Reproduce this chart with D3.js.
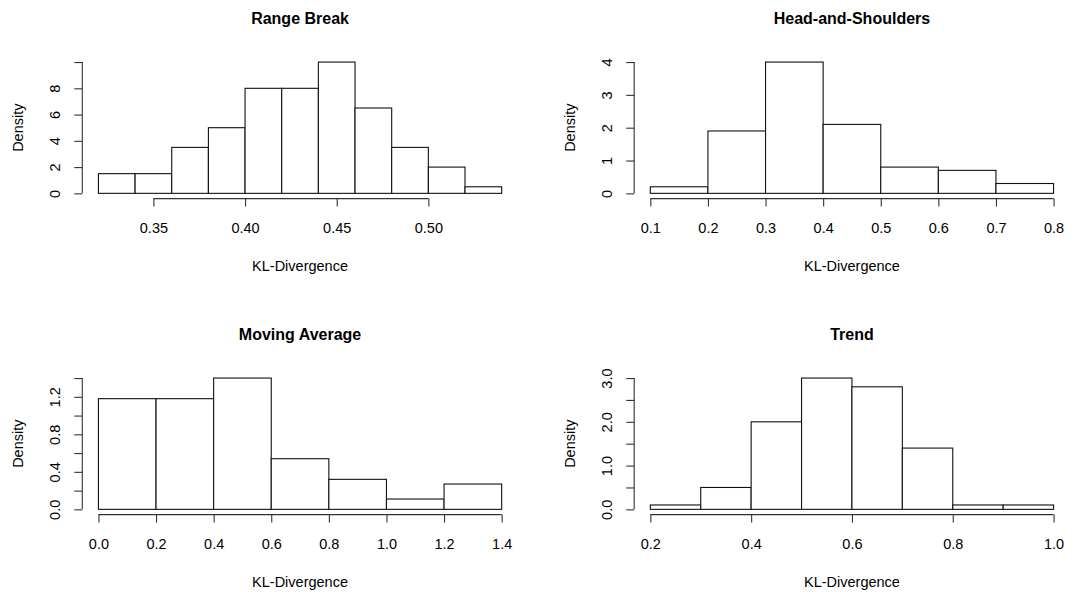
<!DOCTYPE html>
<html>
<head>
<meta charset="utf-8">
<script src="https://cdn.jsdelivr.net/npm/d3@7"></script>
<style>
  html, body { margin: 0; padding: 0; background: #fff; }
  svg { display: block; }
  text { font-family: "Liberation Sans", Arial, Helvetica, sans-serif; fill: #000; }
</style>
</head>
<body>
<svg id="chart" width="1073" height="592"></svg>
<script>
// Histogram data: bin edges and densities for each pattern type
const rangeBreakBreaks = [0.32, 0.34, 0.36, 0.38, 0.40, 0.42, 0.44, 0.46, 0.48, 0.50, 0.52, 0.54];
const rangeBreakDensity = [1.5, 1.5, 3.5, 5, 8, 8, 10, 6.5, 3.5, 2, 0.5];
const rangeBreakXTicks = [0.35, 0.40, 0.45, 0.50];
const rangeBreakYTicks = [0, 2, 4, 6, 8, 10];
const rangeBreakYLabels = ["0", "2", "4", "6", "8", ""];

const headShouldersBreaks = [0.1, 0.2, 0.3, 0.4, 0.5, 0.6, 0.7, 0.8];
const headShouldersDensity = [0.2, 1.9, 4.0, 2.1, 0.8, 0.7, 0.3];
const headShouldersXTicks = [0.1, 0.2, 0.3, 0.4, 0.5, 0.6, 0.7, 0.8];
const headShouldersYTicks = [0, 1, 2, 3, 4];
const headShouldersYLabels = ["0", "1", "2", "3", "4"];

const movingAvgBreaks = [0.0, 0.2, 0.4, 0.6, 0.8, 1.0, 1.2, 1.4];
const movingAvgDensity = [1.18, 1.18, 1.40, 0.54, 0.32, 0.11, 0.27];
const movingAvgXTicks = [0.0, 0.2, 0.4, 0.6, 0.8, 1.0, 1.2, 1.4];
const movingAvgYTicks = [0.0, 0.2, 0.4, 0.6, 0.8, 1.0, 1.2, 1.4];
const movingAvgYLabels = ["0.0", "", "0.4", "", "0.8", "", "1.2", ""];

const trendBreaks = [0.2, 0.3, 0.4, 0.5, 0.6, 0.7, 0.8, 0.9, 1.0];
const trendDensity = [0.1, 0.5, 2.0, 3.0, 2.8, 1.4, 0.1, 0.1];
const trendXTicks = [0.2, 0.4, 0.6, 0.8, 1.0];
const trendYTicks = [0.0, 0.5, 1.0, 1.5, 2.0, 2.5, 3.0];
const trendYLabels = ["0.0", "", "1.0", "", "2.0", "", "3.0"];

const titles = ["Range Break", "Head-and-Shoulders", "Moving Average", "Trend"];
const xAxisTitle = "KL-Divergence";
const yAxisTitle = "Density";

const panels = [
  { title: titles[0], breaks: rangeBreakBreaks, density: rangeBreakDensity,
    xTicks: rangeBreakXTicks, xFmt: d3.format(".2f"), yTicks: rangeBreakYTicks, yLabels: rangeBreakYLabels },
  { title: titles[1], breaks: headShouldersBreaks, density: headShouldersDensity,
    xTicks: headShouldersXTicks, xFmt: d3.format(".1f"), yTicks: headShouldersYTicks, yLabels: headShouldersYLabels },
  { title: titles[2], breaks: movingAvgBreaks, density: movingAvgDensity,
    xTicks: movingAvgXTicks, xFmt: d3.format(".1f"), yTicks: movingAvgYTicks, yLabels: movingAvgYLabels },
  { title: titles[3], breaks: trendBreaks, density: trendDensity,
    xTicks: trendXTicks, xFmt: d3.format(".1f"), yTicks: trendYTicks, yLabels: trendYLabels }
];

// Plot-region geometry for the 2x2 grid
const colLeft = [82.3, 634.2];
const rowTop = [56.8, 372.8];
const plotW = 435.5;
const plotH = 141.8;
const FONT = 14.5;
const TITLE_FONT = 16;
const TICK_LEN = 8;

const svg = d3.select("#chart");

panels.forEach((p, i) => {
  const left = colLeft[i % 2];
  const top = rowTop[Math.floor(i / 2)];
  const g = svg.append("g").attr("transform", `translate(${left},${top})`);

  // Axis ranges padded by 4% as in a classic histogram plot
  const xmin = d3.min(p.breaks), xmax = d3.max(p.breaks);
  const xpad = (xmax - xmin) * 0.04;
  const ymax = d3.max(p.density);
  const ypad = ymax * 0.04;

  const x = d3.scaleLinear().domain([xmin - xpad, xmax + xpad]).range([0, plotW]);
  const y = d3.scaleLinear().domain([-ypad, ymax + ypad]).range([plotH, 0]);

  const bins = p.density.map((d, k) => ({ x0: p.breaks[k], x1: p.breaks[k + 1], v: d }));

  // Bars
  g.selectAll("rect.bar").data(bins).enter().append("rect")
    .attr("class", "bar")
    .attr("x", d => x(d.x0))
    .attr("y", d => y(d.v))
    .attr("width", d => x(d.x1) - x(d.x0))
    .attr("height", d => y(0) - y(d.v))
    .attr("fill", "#fff")
    .attr("stroke", "#111")
    .attr("stroke-width", 1.1);

  // X axis: line spans first to last tick
  const xAxis = d3.axisBottom(x).tickValues(p.xTicks).tickFormat(p.xFmt)
    .tickSizeInner(TICK_LEN).tickSizeOuter(0).tickPadding(6);
  const xg = g.append("g").attr("transform", `translate(0,${plotH})`).call(xAxis);
  xg.select(".domain").remove();
  xg.append("line")
    .attr("x1", x(p.xTicks[0])).attr("x2", x(p.xTicks[p.xTicks.length - 1]))
    .attr("y1", 0).attr("y2", 0);
  xg.selectAll("line").attr("stroke", "#333").attr("stroke-width", 1.1);
  xg.selectAll(".tick text")
    .attr("font-size", FONT)
    .attr("fill", "#111")
    .attr("dy", null)
    .attr("y", 29.7)
    .attr("dominant-baseline", "central");

  // Y axis with rotated labels
  const yAxis = d3.axisLeft(y).tickValues(p.yTicks).tickFormat((d, k) => p.yLabels[k])
    .tickSizeInner(TICK_LEN).tickSizeOuter(0);
  const yg = g.append("g").call(yAxis);
  yg.select(".domain").remove();
  yg.append("line")
    .attr("x1", 0).attr("x2", 0)
    .attr("y1", y(p.yTicks[0])).attr("y2", y(p.yTicks[p.yTicks.length - 1]));
  yg.selectAll("line").attr("stroke", "#333").attr("stroke-width", 1.1);
  yg.selectAll(".tick text")
    .attr("font-size", FONT)
    .attr("fill", "#111")
    .attr("x", null).attr("dy", null)
    .attr("text-anchor", "middle")
    .attr("dominant-baseline", "central")
    .attr("transform", "translate(-27,0) rotate(-90)");

  // Axis titles
  g.append("text")
    .attr("x", plotW / 2).attr("y", plotH + 67)
    .attr("text-anchor", "middle").attr("dominant-baseline", "central")
    .attr("font-size", FONT).attr("fill", "#111")
    .text(xAxisTitle);

  g.append("text")
    .attr("transform", `translate(-64,${plotH / 2}) rotate(-90)`)
    .attr("text-anchor", "middle").attr("dominant-baseline", "central")
    .attr("font-size", FONT).attr("fill", "#111")
    .text(yAxisTitle);

  // Panel title
  g.append("text")
    .attr("x", plotW / 2).attr("y", -38.5)
    .attr("text-anchor", "middle").attr("dominant-baseline", "central")
    .attr("font-size", TITLE_FONT).attr("font-weight", "bold")
    .text(p.title);
});
</script>
</body>
</html>
